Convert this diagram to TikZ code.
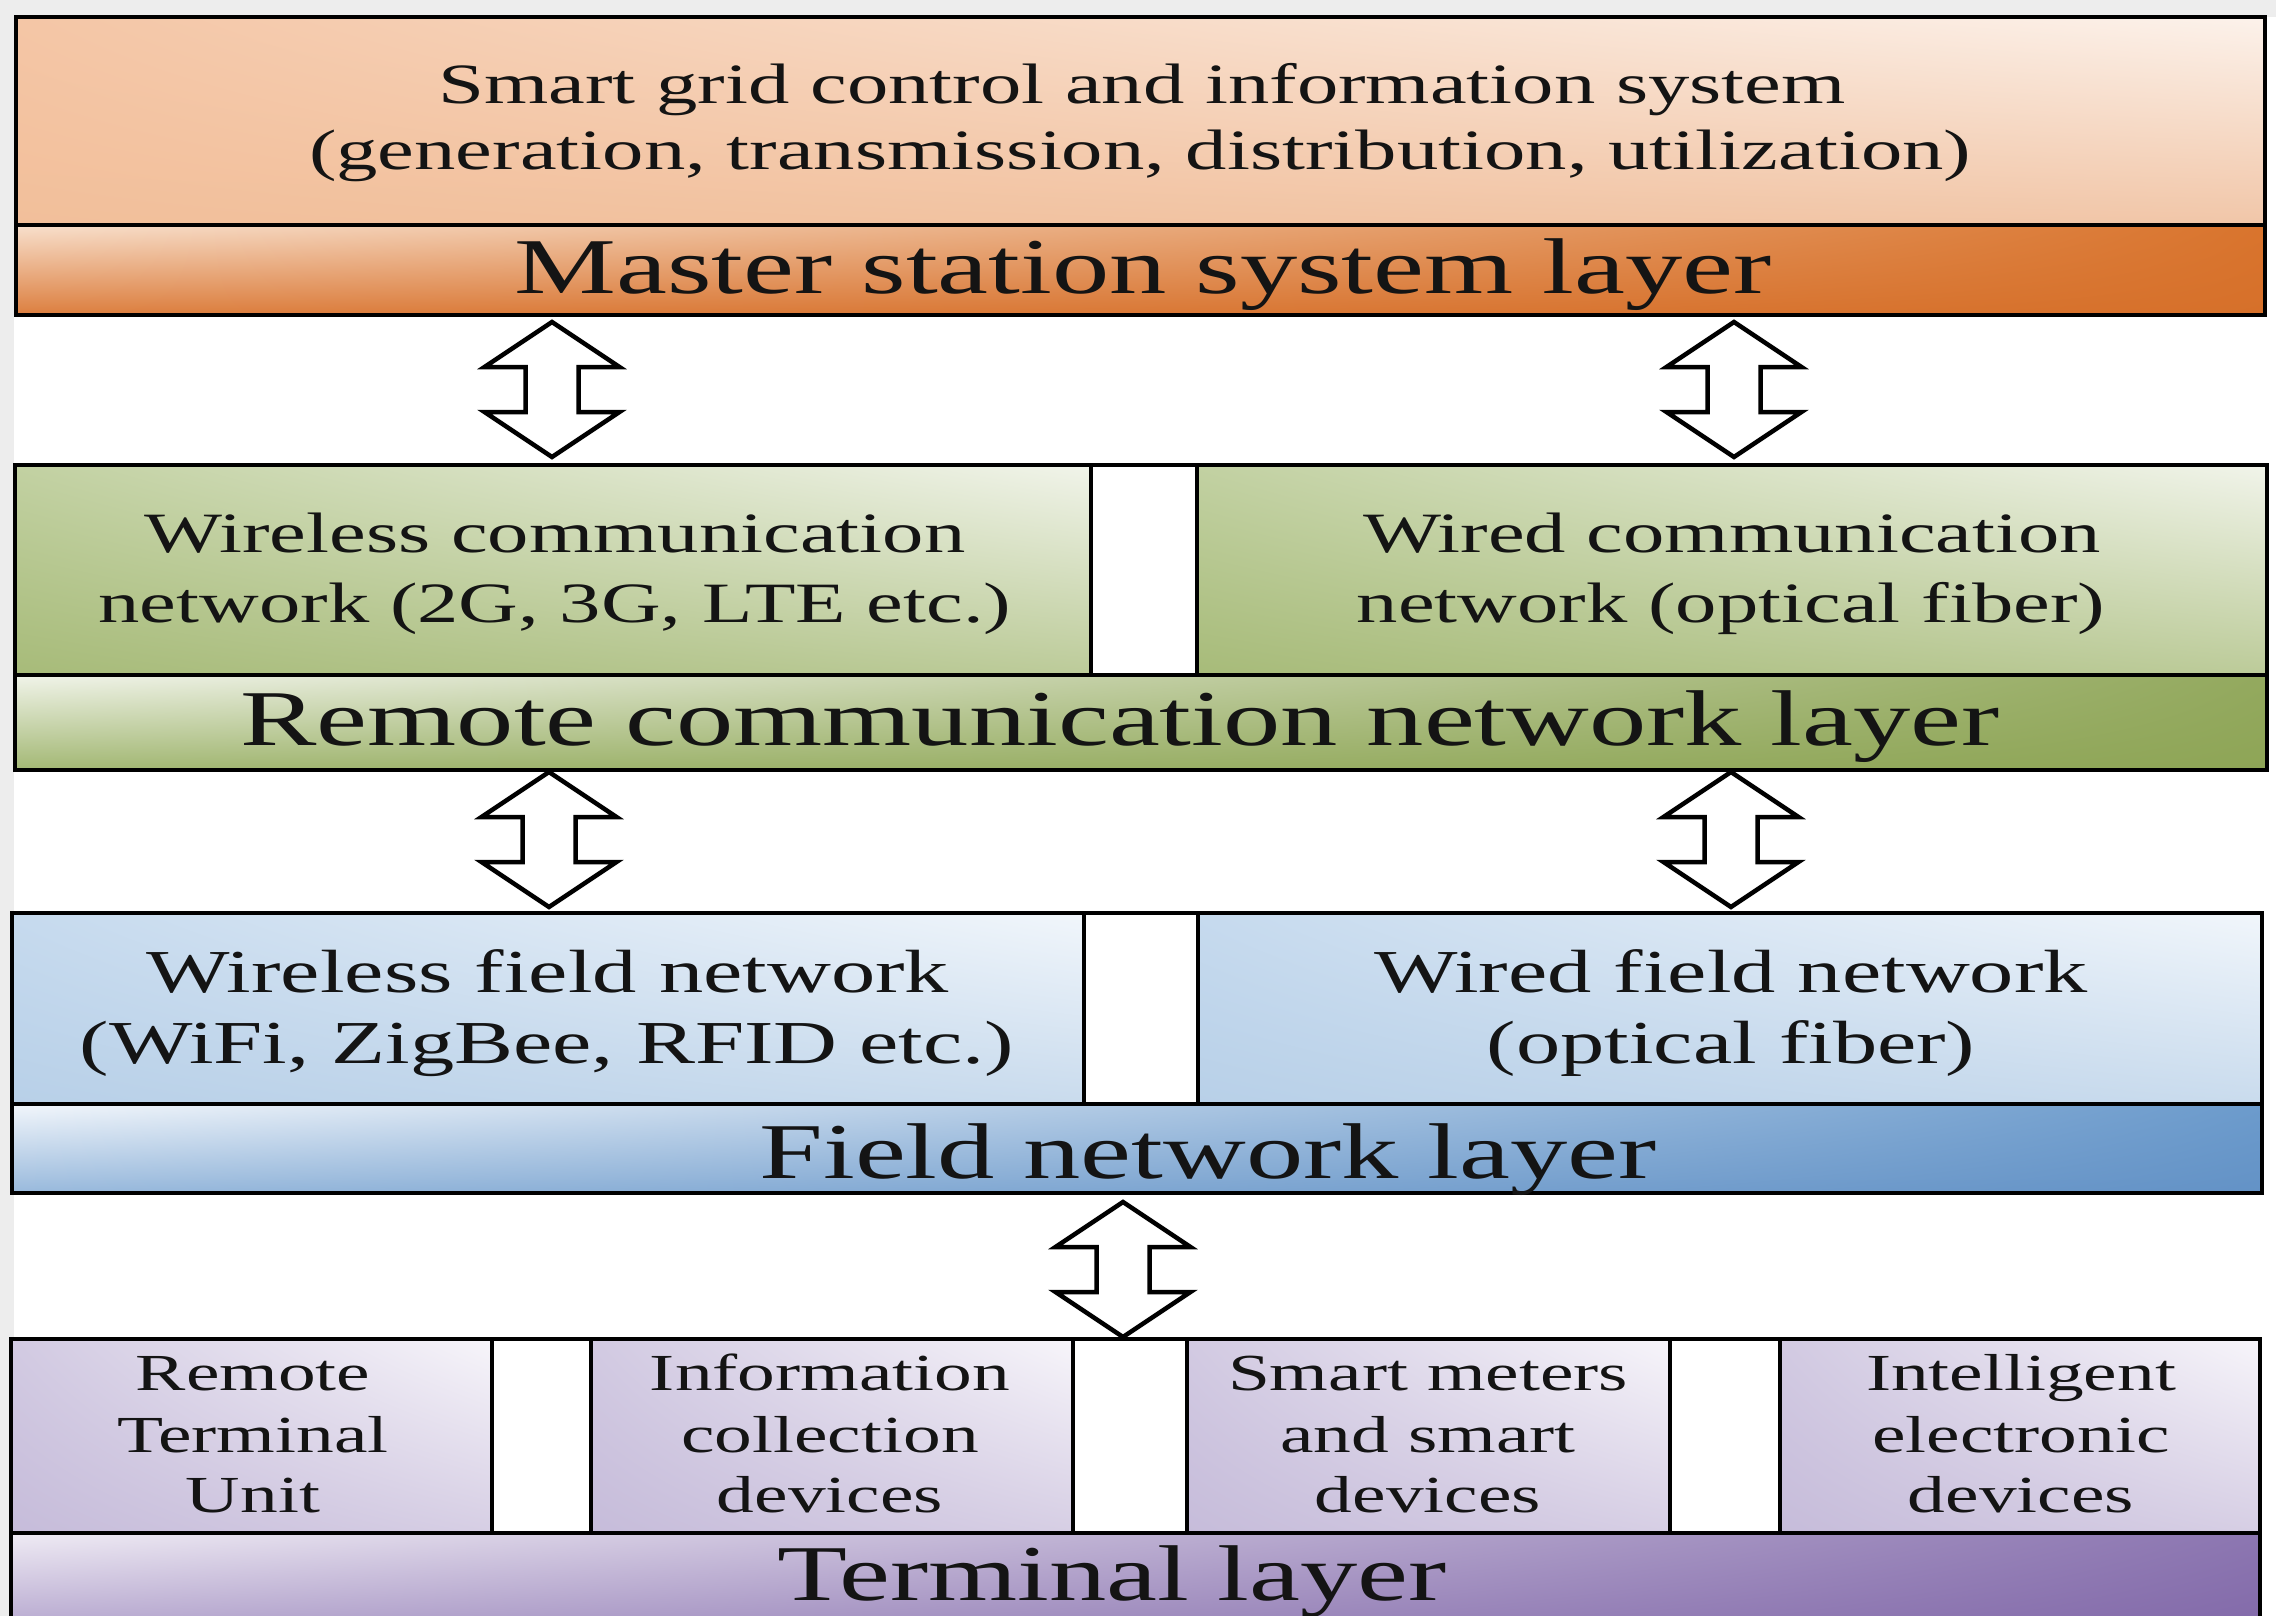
\documentclass[tikz,border=0pt]{standalone}
\usepackage{fontspec}
\usetikzlibrary{shadings}
\setmainfont{Liberation Serif}[FakeStretch=1.45]
\definecolor{pagegray}{HTML}{EDEDED}
\definecolor{ink}{HTML}{141414}
% orange
\definecolor{orUL}{HTML}{F4C6A6}\definecolor{orUR}{HTML}{FCF2EB}\definecolor{orLL}{HTML}{F2BF9A}\definecolor{orLR}{HTML}{F1C6A8}
\definecolor{obUL}{HTML}{F8E0CD}\definecolor{obUR}{HTML}{D9742D}\definecolor{obLL}{HTML}{DC7E3E}\definecolor{obLR}{HTML}{D6702A}
% green
\definecolor{grUL}{HTML}{C2D1A2}\definecolor{grUR}{HTML}{F1F4EA}\definecolor{grLL}{HTML}{A7BB79}\definecolor{grLR}{HTML}{BCCB99}
\definecolor{gbUL}{HTML}{F1F4EA}\definecolor{gbUR}{HTML}{93A95E}\definecolor{gbLL}{HTML}{A3B874}\definecolor{gbLR}{HTML}{8EA556}
% blue
\definecolor{blUL}{HTML}{C6DAEE}\definecolor{blUR}{HTML}{F1F6FB}\definecolor{blLL}{HTML}{B8D0E8}\definecolor{blLR}{HTML}{C9DBED}
\definecolor{bbUL}{HTML}{F2F6FB}\definecolor{bbUR}{HTML}{6C9BCC}\definecolor{bbLL}{HTML}{98B9DC}\definecolor{bbLR}{HTML}{6392C6}
% purple
\definecolor{puUL}{HTML}{D2CAE2}\definecolor{puUR}{HTML}{F7F5FA}\definecolor{puLL}{HTML}{C6BCDA}\definecolor{puLR}{HTML}{D6CEE4}
\definecolor{pbUL}{HTML}{EFEBF4}\definecolor{pbUR}{HTML}{8C76B1}\definecolor{pbLL}{HTML}{B3A4CD}\definecolor{pbLR}{HTML}{8269A9}
\begin{document}
\begin{tikzpicture}[x=1pt,y=-1pt,
  rowframe/.style={draw=black, line width=4pt, fill=white, inner sep=0pt, outer sep=0pt, anchor=north west},
  cell/.style={draw=black, line width=4pt, shade, inner sep=0pt, outer sep=0pt, anchor=north west},
  orangecell/.style={cell, upper left=orUL, upper right=orUR, lower left=orLL, lower right=orLR},
  orangebar/.style={cell, upper left=obUL, upper right=obUR, lower left=obLL, lower right=obLR},
  greencell/.style={cell, upper left=grUL, upper right=grUR, lower left=grLL, lower right=grLR},
  greenbar/.style={cell, upper left=gbUL, upper right=gbUR, lower left=gbLL, lower right=gbLR},
  bluecell/.style={cell, upper left=blUL, upper right=blUR, lower left=blLL, lower right=blLR},
  bluebar/.style={cell, upper left=bbUL, upper right=bbUR, lower left=bbLL, lower right=bbLR},
  purplecell/.style={cell, upper left=puUL, upper right=puUR, lower left=puLL, lower right=puLR},
  purplebar/.style={cell, upper left=pbUL, upper right=pbUR, lower left=pbLL, lower right=pbLR},
  txt/.style={anchor=base, inner sep=0pt, outer sep=0pt, text=ink},
  fsmall/.style={txt, font=\fontsize{57}{66}\selectfont},
  fmid/.style={txt, font=\fontsize{61}{70}\selectfont},
  fterm/.style={txt, font=\fontsize{52}{61}\selectfont},
  fbig/.style={txt, font=\fontsize{79}{90}\selectfont},
  fatarrow/.style={draw=black, fill=white, line width=4.5pt, line join=miter}
]
\useasboundingbox (0,0) rectangle (2276,1616);
\fill[pagegray] (0,0) rectangle (2276,1616);
\fill[white] (14,17) rectangle (2276,1616);
\clip (0,0) rectangle (2276,1616);

% ---------- Master station system layer ----------
\node[orangecell, minimum width=2249pt, minimum height=208pt] (top) at (16,17) {};
\node[orangebar, minimum width=2249pt, minimum height=90pt] (master) at (16,225) {};
\node[fsmall] (topl1) at (1142,104) {Smart grid control and information system};
\node[fsmall] (topl2) at (1140,170) {(generation, transmission, distribution, utilization)};
\node[fbig] (masterl) at (1143,293) {Master station system layer};

% ---------- Remote communication network layer ----------
\node[rowframe, minimum width=2252pt, minimum height=210pt] (greenrow) at (15,465) {};
\node[greencell, minimum width=1076pt, minimum height=210pt] (wlc) at (15,465) {};
\node[greencell, minimum width=1070pt, minimum height=210pt] (wdc) at (1197,465) {};
\node[greenbar, minimum width=2252pt, minimum height=95pt] (remote) at (15,675) {};
\node[fsmall] (wlc1) at (555,552) {Wireless communication};
\node[fsmall] (wlc2) at (555,622) {network (2G, 3G, LTE etc.)};
\node[fsmall] (wdc1) at (1732,552) {Wired communication};
\node[fsmall] (wdc2) at (1731,622) {network (optical fiber)};
\node[fbig] (remotel) at (1120,745) {Remote communication network layer};

% ---------- Field network layer ----------
\node[rowframe, minimum width=2250pt, minimum height=191pt] (bluerow) at (12,913) {};
\node[bluecell, minimum width=1072pt, minimum height=191pt] (wlf) at (12,913) {};
\node[bluecell, minimum width=1064pt, minimum height=191pt] (wdf) at (1198,913) {};
\node[bluebar, minimum width=2250pt, minimum height=89pt] (field) at (12,1104) {};
\node[fmid] (wlf1) at (548,992) {Wireless field network};
\node[fmid] (wlf2) at (547,1063) {(WiFi, ZigBee, RFID etc.)};
\node[fmid] (wdf1) at (1731,992) {Wired field network};
\node[fmid] (wdf2) at (1731,1063) {(optical fiber)};
\node[fbig] (fieldl) at (1208,1178) {Field network layer};

% ---------- Terminal layer ----------
\node[rowframe, minimum width=2249pt, minimum height=194pt] (purplerow) at (11,1339) {};
\node[purplecell, minimum width=481pt, minimum height=194pt] (rtu) at (11,1339) {};
\node[purplecell, minimum width=482pt, minimum height=194pt] (icd) at (591,1339) {};
\node[purplecell, minimum width=483pt, minimum height=194pt] (smd) at (1187,1339) {};
\node[purplecell, minimum width=480pt, minimum height=194pt] (ied) at (1780,1339) {};
\node[purplebar, minimum width=2249pt, minimum height=100pt] (terminal) at (11,1533) {};
\node[fterm] (rtu1) at (253,1390) {Remote};
\node[fterm] (rtu2) at (253,1452) {Terminal};
\node[fterm] (rtu3) at (253,1512) {Unit};
\node[fterm] (icd1) at (830,1390) {Information};
\node[fterm] (icd2) at (830,1452) {collection};
\node[fterm] (icd3) at (830,1512) {devices};
\node[fterm] (smd1) at (1428,1390) {Smart meters};
\node[fterm] (smd2) at (1428,1452) {and smart};
\node[fterm] (smd3) at (1428,1512) {devices};
\node[fterm] (ied1) at (2021,1390) {Intelligent};
\node[fterm] (ied2) at (2021,1452) {electronic};
\node[fterm] (ied3) at (2021,1512) {devices};
\node[fbig] (terminall) at (1112,1600) {Terminal layer};

% ---------- double arrows ----------
\coordinate (a1) at (552,322);
\coordinate (a2) at (1734,322);
\coordinate (a3) at (549,772);
\coordinate (a4) at (1731,772);
\coordinate (a5) at (1123,1202);
\foreach \c in {a1,a2,a3,a4,a5}{
  \draw[fatarrow] (\c) -- ++(67.5,45) -- ++(-41,0) -- ++(0,45) -- ++(41,0)
    -- ++(-67.5,45) -- ++(-67.5,-45) -- ++(41,0) -- ++(0,-45) -- ++(-41,0) -- cycle;
}
\end{tikzpicture}
\end{document}
